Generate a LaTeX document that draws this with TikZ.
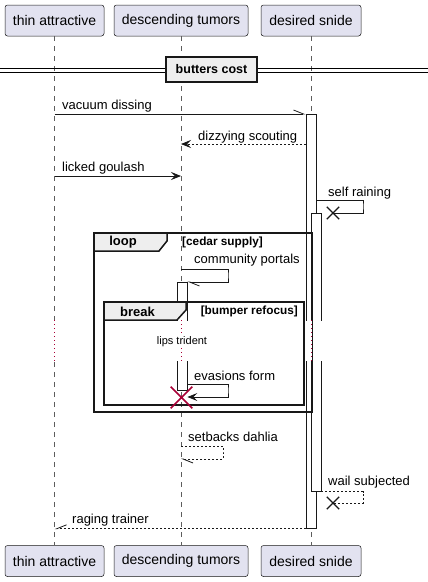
\documentclass[tikz,border=0pt]{standalone}
\usepackage{fontspec}
\setmainfont{Liberation Sans}
\usetikzlibrary{arrows.meta, shapes.misc}
\definecolor{partfill}{HTML}{E2E2F0}
\definecolor{partline}{HTML}{181818}
\definecolor{tabfill}{HTML}{EEEEEE}
\definecolor{killred}{HTML}{A80036}
\begin{document}
\begin{tikzpicture}[
    x=1pt, y=-1pt,
    part/.style={rectangle, rounded corners=2.5pt, draw=partline, fill=partfill, line width=0.5pt, minimum height=31pt, inner sep=0pt, font=\fontsize{14}{17}\selectfont},
    lifeline/.style={draw=partline!70, line width=0.5pt, dash pattern=on 5pt off 5pt},
    pause/.style={draw=killred, line width=0.9pt, dash pattern=on 1pt off 3pt},
    bar/.style={rectangle, draw=partline, fill=white, line width=0.8pt, minimum width=10pt, inner sep=0pt, anchor=north},
    msg/.style={draw=partline, line width=0.8pt},
    reply/.style={msg, dash pattern=on 2pt off 2pt},
    head/.style={-{Stealth[length=10pt, width=8pt, inset=4pt]}},
    half/.style={-{Straight Barb[harpoon, length=10pt, width=8pt]}},
    halfsw/.style={-{Straight Barb[harpoon, swap, length=10pt, width=8pt]}},
    lbl/.style={anchor=base west, inner sep=0pt, font=\fontsize{13}{15}\selectfont},
    cond/.style={inner sep=0pt, font=\bfseries\fontsize{11.8}{14}\selectfont},
    frame/.style={draw=partline, line width=1.5pt},
    tab/.style={draw=partline, fill=tabfill, line width=1.5pt},
    lostx/.style={cross out, draw=partline, line width=1.3pt, minimum size=11pt, inner sep=0pt},
]
    \useasboundingbox (0,0) rectangle (428,582);

    % Participants
    \node[part, minimum width=99pt] (ta) at (54.5,20.5) {thin attractive};
    \node[part, minimum width=134pt] (dt) at (181,20.5) {descending tumors};
    \node[part, minimum width=100pt] (ds) at (311,20.5) {desired snide};
    \node[part, minimum width=99pt] (ta-b) at (54.5,561) {thin attractive};
    \node[part, minimum width=134pt] (dt-b) at (181,561) {descending tumors};
    \node[part, minimum width=100pt] (ds-b) at (311,561) {desired snide};

    % Lifelines
    \draw[lifeline] (ta.south) -- (ta |- 0,320) (ta |- 0,362) -- (ta-b.north);
    \draw[lifeline] (dt.south) -- (dt |- 0,320) (dt |- 0,362) -- (dt-b.north);
    \draw[lifeline] (ds.south) -- (ds |- 0,320) (ds |- 0,362) -- (ds-b.north);
    \draw[pause] (ta |- 0,320) -- (ta |- 0,362);

    % Divider
    \draw[line width=1pt] (0,68) -- (428,68) (0,72) -- (428,72);
    \node[draw=partline, fill=tabfill, line width=2pt, minimum width=91pt, minimum height=25pt, inner sep=0pt, font=\bfseries\fontsize{12.5}{15}\selectfont] (sep) at (211.5,69.5) {butters cost};

    % Activations
    \node[bar, minimum height=414pt] (act1) at (311,114) {};
    \node[bar, minimum height=278pt] (act2) at (316,213) {};
    \node[bar, minimum height=108pt] (act3) at (182,282) {};

    % Delay
    \fill[white] (174,320.7) rectangle (190,361.3);
    \fill[white] (300,320.7) rectangle (324,361.3);
    \draw[pause] (dt |- 0,320) -- (dt |- 0,362);
    \draw[pause] (ds |- 0,320) -- (ds |- 0,362);

    % Loop frame
    \draw[frame] (94,233) rectangle (312.5,412);
    \filldraw[tab] (94,233) -- (167,233) -- (167,241) -- (159,251) -- (94,251) -- cycle;
    \node[font=\bfseries\fontsize{13}{15}\selectfont] (looplbl) at (123,242.5) {loop};
    \node[cond, anchor=west] (loopcond) at (182,242.5) {[cedar supply]};

    % Break frame
    \draw[frame] (104,302) rectangle (304,405);
    \filldraw[tab] (104,302) -- (186,302) -- (186,310) -- (177,320) -- (104,320) -- cycle;
    \node[font=\bfseries\fontsize{13}{15}\selectfont] (breaklbl) at (137.5,311.5) {break};
    \node[cond, anchor=east] (breakcond) at (298,311) {[bumper refocus]};

    % Messages
    \draw[msg, half] (ta |- act1.north) -- (act1.north west);
    \node[lbl] (m1) at (62,109) {vacuum dissing};
    \draw[reply, head] (act1.west |- 0,144) -- (dt |- 0,144);
    \node[lbl] (m2) at (198,140) {dizzying scouting};
    \draw[msg, head] (ta |- 0,176) -- (dt |- 0,176);
    \node[lbl] (m3) at (62,171) {licked goulash};
    \node[lostx] (lost1) at (333,213) {};
    \draw[msg] (act1.east |- 0,200) -| (363,206) |- (lost1.center);
    \node[lbl] (m4) at (328,196) {self raining};
    \draw[msg, half] (dt |- 0,269) -| (228,275) |- (act3.north east);
    \node[lbl] (m5) at (194,263) {community portals};
    \node[lbl, font=\fontsize{11}{13}\selectfont, anchor=center, fill=white, inner sep=1pt] (delay) at (182,342) {lips trident};
    \draw[msg, head] (act3.east |- 0,384) -| (228,390) |- (act3.east |- 0,397);
    \node[lbl] (m6) at (194,380) {evasions form};
    \node[cross out, draw=killred, line width=1.6pt, minimum size=20pt, inner sep=0pt] (kill) at (181.5,397.5) {};
    \draw[reply, half] (dt |- 0,446) -| (223,452) |- (dt |- 0,459);
    \node[lbl] (m7) at (188,441) {setbacks dahlia};
    \node[lostx] (lost2) at (333,503) {};
    \draw[reply] (act2.south east) -| (363,497) |- (lost2.center);
    \node[lbl] (m8) at (328,485) {wail subjected};
    \draw[reply, halfsw] (act1.south west) -- (ta |- act1.south);
    \node[lbl] (m9) at (72,523) {raging trainer};
\end{tikzpicture}
\end{document}
